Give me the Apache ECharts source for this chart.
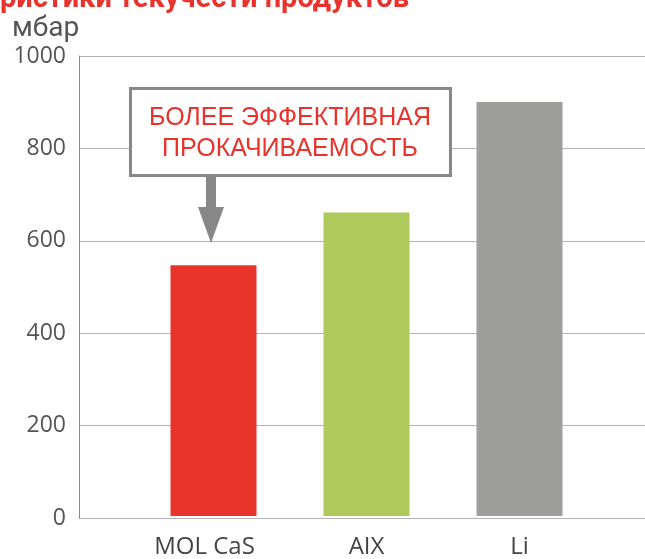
<!DOCTYPE html>
<html>
<head>
<meta charset="utf-8">
<script src="https://cdn.jsdelivr.net/npm/echarts@6/dist/echarts.min.js"></script>
<style>html,body{margin:0;padding:0;background:#fff}#c{width:645px;height:559px}</style>
</head>
<body>
<div id="c"></div>
<script>
const categories = ['MOL CaS', 'AIX', 'Li'];
const values = [545, 660, 900];
const barColors = ['#e9342c', '#adca5b', '#9e9e9c'];
const yTicks = [0, 200, 400, 600, 800, 1000];
const titleText = 'ристики текучести продуктов';
const unitText = 'мбар';
const noteLines = ['БОЛЕЕ ЭФФЕКТИВНАЯ', 'ПРОКАЧИВАЕМОСТЬ'];

const chart = echarts.init(document.getElementById('c'), null, {renderer: 'canvas'});
const option = {
  animation: false,
  grid: [
    {left: 79, top: 56, right: -10, bottom: 41},
    {left: 137, top: 56, width: 459, bottom: 41}
  ],
  xAxis: [
    {gridIndex: 0, type: 'value', show: false, min: 0, max: 1},
    {gridIndex: 1, type: 'category', data: categories,
     axisLine: {show: false}, axisTick: {show: false},
     axisLabel: {interval: 0, hideOverlap: false, fontFamily: 'Open Sans', fontSize: 24, color: '#444', margin: 19,
       formatter: function (v) { return v === categories[0] ? '{s|' + v + '}' : '{n|' + v + '}'; },
       rich: {
         s: {fontFamily: 'Open Sans', fontSize: 24, color: '#444', padding: [0, 18, 0, 0]},
         n: {fontFamily: 'Open Sans', fontSize: 24, color: '#444'}
       }}}
  ],
  yAxis: [
    {gridIndex: 0, type: 'value', min: yTicks[0], max: yTicks[yTicks.length - 1], interval: 200,
     axisLine: {show: true, lineStyle: {color: '#888', width: 1}},
     axisTick: {show: false},
     splitLine: {show: true, lineStyle: {color: '#b4b4b4', width: 1}},
     axisLabel: {fontFamily: 'Open Sans', fontSize: 23, color: '#555', margin: 13,
       formatter: function (v) { return String(v); }}},
    {gridIndex: 1, type: 'value', min: yTicks[0], max: yTicks[yTicks.length - 1], show: false}
  ],
  series: [{
    type: 'bar', xAxisIndex: 1, yAxisIndex: 1, barWidth: 86,
    data: values.map((v, i) => ({value: v, itemStyle: {color: barColors[i]}}))
  }],
  graphic: [
    {type: 'text', left: 0, top: -15, z: 10,
     style: {text: titleText, font: 'bold 29px Roboto', fill: '#e8322b'}},
    {type: 'text', left: 12, top: 15, z: 10,
     style: {text: unitText, font: '28px Roboto', fill: '#555'}},
    {type: 'rect', z: 10, shape: {x: 130.5, y: 88.5, width: 320, height: 87},
     style: {fill: '#fff', stroke: '#888', lineWidth: 3}},
    {type: 'text', z: 11, x: 290, y: 118,
     style: {text: noteLines[0], font: '25px "Liberation Sans"', fill: '#e8322b', align: 'center', verticalAlign: 'middle'}},
    {type: 'text', z: 11, x: 290, y: 149,
     style: {text: noteLines[1], font: '25px "Liberation Sans"', fill: '#e8322b', align: 'center', verticalAlign: 'middle'}},
    {type: 'rect', z: 10, shape: {x: 206, y: 177, width: 10, height: 31},
     style: {fill: '#888'}},
    {type: 'polygon', z: 10, shape: {points: [[198, 207], [224, 207], [211, 243]]},
     style: {fill: '#888'}}
  ]
};
chart.setOption(option);
</script>
</body>
</html>
